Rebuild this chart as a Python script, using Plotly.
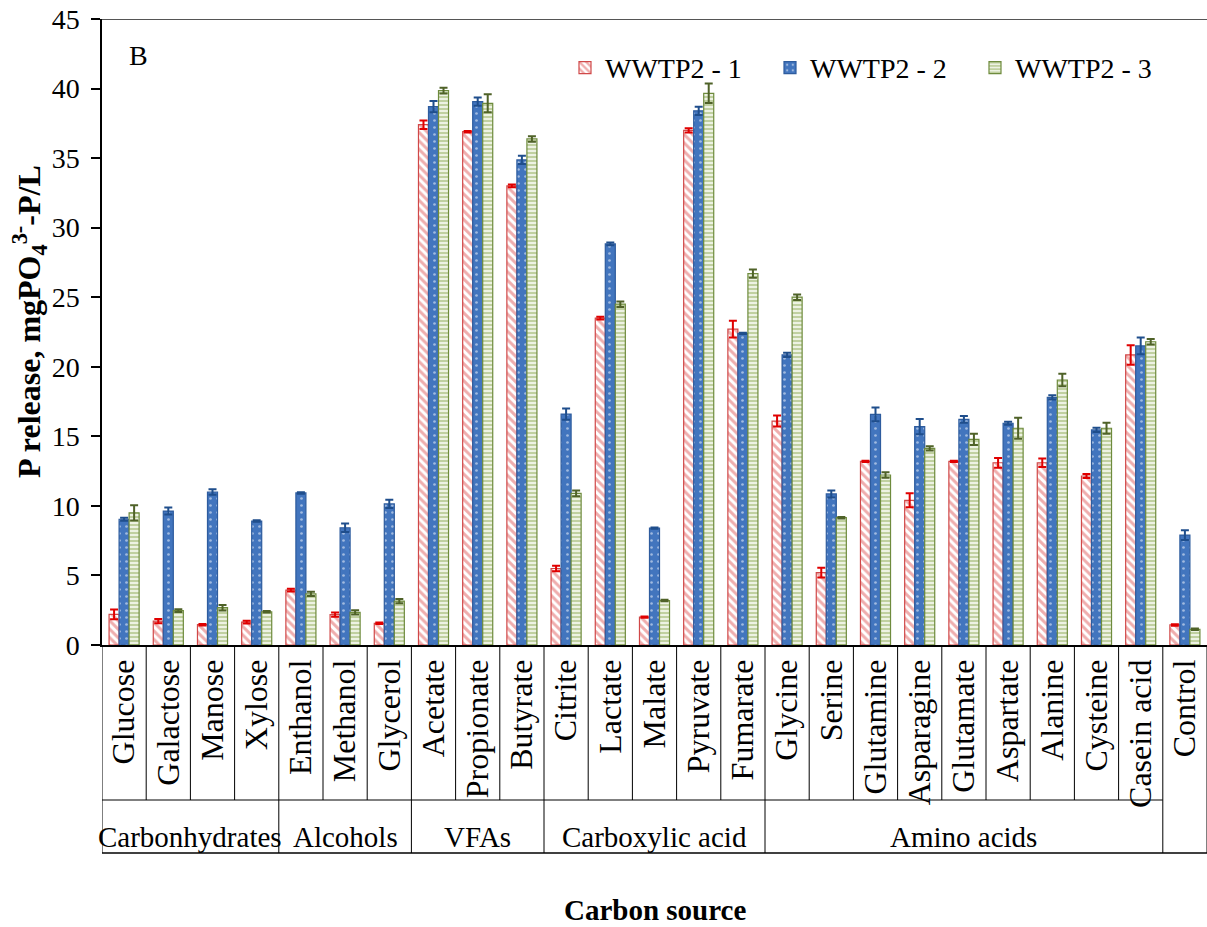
import plotly.graph_objects as go

categories = ["Glucose", "Galactose", "Manose", "Xylose", "Enthanol", "Methanol", "Glycerol",
              "Acetate", "Propionate", "Butyrate", "Citrite", "Lactate", "Malate", "Pyruvate",
              "Fumarate", "Glycine", "Serine", "Glutamine", "Asparagine", "Glutamate",
              "Aspartate", "Alanine", "Cysteine", "Casein acid", "Control"]

wwtp2_1 = [2.2, 1.72, 1.46, 1.65, 3.95, 2.18, 1.56, 37.4, 36.9, 33.0, 5.5, 23.5, 2.0, 37.0,
           22.7, 16.1, 5.2, 13.2, 10.4, 13.2, 13.1, 13.1, 12.15, 20.85, 1.44]
err_1 = [0.35, 0.15, 0.05, 0.1, 0.1, 0.15, 0.05, 0.3, 0.05, 0.1, 0.2, 0.1, 0.05, 0.15, 0.6,
         0.4, 0.35, 0.05, 0.5, 0.05, 0.35, 0.3, 0.15, 0.7, 0.05]

wwtp2_2 = [9.04, 9.63, 11.0, 8.91, 10.93, 8.43, 10.14, 38.7, 39.06, 34.87, 16.6, 28.83, 8.4,
           38.4, 22.4, 20.85, 10.86, 16.58, 15.7, 16.22, 15.94, 17.8, 15.46, 21.5, 7.9]
err_2 = [0.1, 0.25, 0.2, 0.05, 0.05, 0.3, 0.3, 0.4, 0.3, 0.3, 0.4, 0.1, 0.05, 0.3, 0.05,
         0.15, 0.25, 0.5, 0.55, 0.25, 0.1, 0.15, 0.15, 0.6, 0.35]

wwtp2_3 = [9.5, 2.47, 2.68, 2.39, 3.67, 2.35, 3.16, 39.85, 38.94, 36.38, 10.9, 24.5, 3.2,
           39.66, 26.7, 25.0, 9.15, 12.22, 14.14, 14.78, 15.58, 19.05, 15.58, 21.8, 1.13]
err_3 = [0.55, 0.1, 0.2, 0.05, 0.15, 0.15, 0.15, 0.2, 0.65, 0.2, 0.2, 0.2, 0.05, 0.7, 0.3,
         0.2, 0.05, 0.2, 0.15, 0.4, 0.75, 0.45, 0.4, 0.2, 0.05]

groups = ["Carbonhydrates", "Alcohols", "VFAs", "Carboxylic acid", "Amino acids"]
group_sizes = [4, 3, 3, 5, 9]

series_names = ["WWTP2 - 1", "WWTP2 - 2", "WWTP2 - 3"]

FONT = "Liberation Serif"

styles = [
    dict(pattern=dict(shape="\\", fgcolor="#E05C5C", bgcolor="white", size=6, solidity=0.5),
         line="#D04848", err="#E00000"),
    dict(pattern=dict(shape=".", fgcolor="white", bgcolor="#4275BE", size=7, solidity=0.12),
         line="#2E5C9E", err="#1F4E8C"),
    dict(pattern=dict(shape="-", fgcolor="#8DAA55", bgcolor="#F2F6EA", size=4, solidity=0.55),
         line="#6E8B3D", err="#4F6228"),
]

fig = go.Figure()
for name, vals, errs, st in zip(series_names, [wwtp2_1, wwtp2_2, wwtp2_3],
                                [err_1, err_2, err_3], styles):
    fig.add_trace(go.Bar(
        x=categories, y=vals, name=name,
        marker=dict(pattern=st["pattern"], line=dict(color=st["line"], width=1.2)),
        error_y=dict(type="data", array=errs, visible=True, color=st["err"],
                     thickness=2, width=4),
    ))

# Table below axis
row1 = (0 - 155) / 626.0
row2 = (0 - 208) / 626.0
shapes = []
n = len(categories)
for i in range(n + 1):
    shapes.append(dict(type="line", xref="x", yref="paper", x0=i - 0.5, x1=i - 0.5,
                       y0=0, y1=row1, line=dict(color="black", width=1)))
shapes.append(dict(type="line", xref="x", yref="paper", x0=-0.5, x1=n - 1.5,
                   y0=row1, y1=row1, line=dict(color="black", width=1)))
start = 0
bounds = [-0.5]
for s in group_sizes:
    start += s
    bounds.append(start - 0.5)
bounds.append(n - 0.5)
for b in bounds:
    shapes.append(dict(type="line", xref="x", yref="paper", x0=b, x1=b,
                       y0=row1, y1=row2, line=dict(color="black", width=1)))
shapes.append(dict(type="line", xref="x", yref="paper", x0=-0.5, x1=n - 0.5,
                   y0=row2, y1=row2, line=dict(color="black", width=1.5)))
shapes.append(dict(type="line", xref="paper", yref="y", x0=0, x1=1, y0=45, y1=45,
                   line=dict(color="#555555", width=2)))

annotations = []
start = 0
for g, s in zip(groups, group_sizes):
    center = start + (s - 1) / 2.0
    annotations.append(dict(text=g, xref="x", yref="paper", x=center, y=(0 - 192) / 626.0,
                            showarrow=False, font=dict(family=FONT, size=29, color="black"),
                            xanchor="center", yanchor="middle"))
    start += s

annotations.append(dict(text="B", xref="paper", yref="paper", x=0.0226, y=0.941,
                        showarrow=False, xanchor="left", yanchor="middle",
                        font=dict(family=FONT, size=28, color="black")))
annotations.append(dict(text="<b>Carbon source</b>", xref="paper", yref="paper", x=0.5,
                        y=(0 - 265) / 626.0, showarrow=False, xanchor="center",
                        yanchor="middle", font=dict(family=FONT, size=29, color="black")))
annotations.append(dict(text="<b>P release, mgPO<sub>4</sub><sup>3-</sup>-P/L</b>",
                        xref="paper", yref="paper", x=(30 - 102) / 1105.0, y=0.516,
                        textangle=-90, showarrow=False, xanchor="center", yanchor="middle",
                        font=dict(family=FONT, size=32, color="black")))

fig.update_layout(
    width=1207, height=927,
    margin=dict(l=102, r=0, t=19, b=282, autoexpand=False),
    paper_bgcolor="white", plot_bgcolor="white",
    barmode="group", bargap=0.32, bargroupgap=0,
    font=dict(family=FONT, size=28, color="black"),
    shapes=shapes, annotations=annotations,
    legend=dict(orientation="h", x=0.419, y=0.922, xanchor="left", yanchor="middle",
                font=dict(family=FONT, size=28, color="black"),
                entrywidth=160, entrywidthmode="pixels", bgcolor="rgba(0,0,0,0)",
                traceorder="normal"),
    showlegend=True,
)
fig.update_xaxes(type="category", tickmode="linear", dtick=1, tickangle=-90,
                 range=[-0.5, n - 0.5], showline=True, linecolor="black", linewidth=1.5,
                 ticks="", showgrid=False, zeroline=False, automargin=False,
                 tickfont=dict(family=FONT, size=32, color="black"))
fig.update_yaxes(range=[0, 45], dtick=5, tick0=0, showline=True, linecolor="black",
                 linewidth=1.5, ticks="outside", ticklen=9, tickcolor="black", tickwidth=1.5,
                 showgrid=False, zeroline=False, automargin=False, ticklabelstandoff=6,
                 tickfont=dict(family=FONT, size=28, color="black"))

fig.write_html("out.html")
